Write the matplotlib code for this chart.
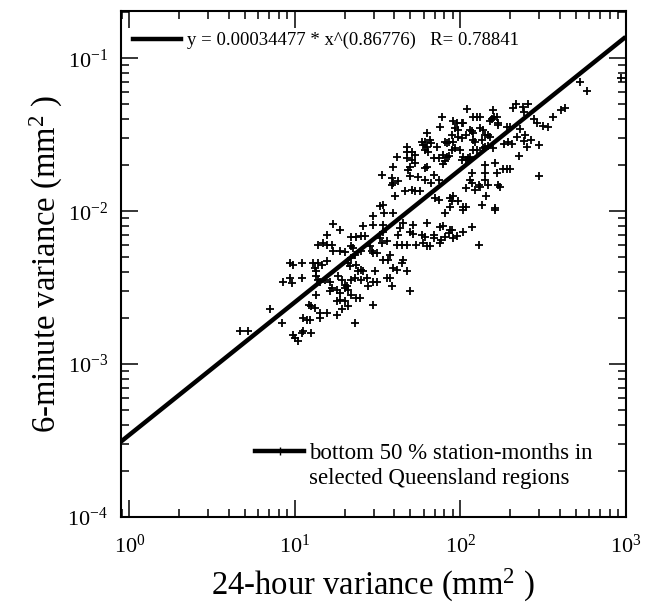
import numpy as np
import matplotlib
matplotlib.use('Agg')
import matplotlib.pyplot as plt
from matplotlib.lines import Line2D

plt.rcParams['font.family'] = ['Liberation Serif', 'DejaVu Serif']
plt.rcParams['mathtext.fontset'] = 'custom'
plt.rcParams['mathtext.rm'] = 'Liberation Serif'
plt.rcParams['mathtext.it'] = 'Liberation Serif:italic'
plt.rcParams['axes.unicode_minus'] = False

# power-law fit printed on the chart
fit_a = 0.00034477
fit_b = 0.86776
fit_r = 0.78841

# station-months, upper cluster (24-hour variance, 6-minute variance)
upper_x = [932, 529, 581, 430, 405, 365, 340, 318, 292, 279,
           258, 240, 244, 217, 209, 230, 219, 207, 246, 244,
           267, 300, 252, 228, 300, 200, 192, 184, 195, 170,
           158, 160, 155, 166, 170, 151, 126, 120, 132, 110,
           78, 75, 91, 95, 102, 104, 93, 97, 89, 85,
           91, 93, 89, 100, 97, 102, 109, 114, 117, 120,
           120, 123, 132, 138, 141, 148, 151, 135, 141, 138,
           148, 158, 126, 119, 112, 109, 115, 104, 102, 72,
           67, 66, 81, 83, 79, 83, 85, 74, 69, 81,
           79, 141, 162, 117, 115, 117, 141, 141, 148, 166,
           182, 191, 200, 170, 174, 129, 132, 109, 123, 144,
           69, 74, 67, 70, 74, 87, 91, 89, 97, 135,
           162, 104, 109, 87]
upper_y = [0.0742, 0.0706, 0.0616, 0.0472, 0.0461, 0.0417, 0.0355, 0.0362, 0.0377, 0.040,
           0.0504, 0.048, 0.0449, 0.0504, 0.0472, 0.0344, 0.0308, 0.0276, 0.0316, 0.0290,
           0.0293, 0.0272, 0.0262, 0.0231, 0.0169, 0.0358, 0.0355, 0.0276, 0.0282, 0.0367,
           0.046, 0.0412, 0.040, 0.0417, 0.0377, 0.0392, 0.0417, 0.0417, 0.0417, 0.0466,
           0.0417, 0.0355, 0.0392, 0.0377, 0.038, 0.0377, 0.0349, 0.0341, 0.0316, 0.0286,
           0.0286, 0.0259, 0.0252, 0.0252, 0.0308, 0.0301, 0.0316, 0.0341, 0.0333, 0.0325,
           0.0293, 0.0286, 0.0349, 0.0341, 0.0316, 0.0316, 0.0308, 0.0293, 0.0265, 0.0259,
           0.0268, 0.0259, 0.0252, 0.0252, 0.0222, 0.0217, 0.0226, 0.0226, 0.0217, 0.0265,
           0.0279, 0.0293, 0.0286, 0.0279, 0.0234, 0.0228, 0.0230, 0.0222, 0.0222, 0.0212,
           0.0204, 0.0201, 0.0207, 0.0177, 0.0161, 0.0153, 0.0177, 0.0161, 0.0149, 0.0177,
           0.0189, 0.0189, 0.0189, 0.0149, 0.0144, 0.0149, 0.0145, 0.0142, 0.0138, 0.0126,
           0.0173, 0.0161, 0.0153, 0.0122, 0.0119, 0.0122, 0.0125, 0.0116, 0.0116, 0.0110,
           0.0105, 0.0107, 0.0107, 0.0107]

# middle band around x = 30..65
mid_x = [62.6, 61.2, 59.7, 62.6, 64.1, 58.4, 61.2, 47.4, 50.8, 53.2,
         47.4, 47.4, 50.8, 53.2, 49.6, 48.5, 62.6, 61.2, 41.2, 39.4,
         33.5, 38.5, 39.4, 38.5, 42.2, 49.6, 55.7, 61.2, 46.3, 50.8,
         53.2, 57.0, 40.3, 34.3, 32.7]
mid_y = [0.0327, 0.0286, 0.0272, 0.0265, 0.0246, 0.0286, 0.0252, 0.0265, 0.0246, 0.0234,
         0.0246, 0.0222, 0.0217, 0.0207, 0.0196, 0.0187, 0.0196, 0.0192, 0.0228, 0.0196,
         0.0173, 0.0165, 0.0153, 0.0149, 0.0157, 0.0169, 0.0168, 0.0161, 0.0135, 0.0138,
         0.0135, 0.0135, 0.0126, 0.0110, 0.0108]

# points below the line near x = 70..160
right_x = [81, 104, 162, 75, 79, 87, 89, 85, 69, 69,
           81, 77, 75, 91, 95, 104, 117, 129, 66]
right_y = [0.00973, 0.0102, 0.0102, 0.00787, 0.00803, 0.00757, 0.0075, 0.0072, 0.00702, 0.00668,
           0.00678, 0.00651, 0.0062, 0.00668, 0.00686, 0.00727, 0.00787, 0.00604, 0.00589]

# lower cluster
lower_x = [29.8, 34.6, 39.4, 17.1, 15.6, 18.7, 22.0, 23.6, 25.3, 26.5,
           25.9, 29.8, 34.3, 45.3, 51.5, 62.6, 43.2, 42.2, 49.6, 52.0,
           58.4, 61.2, 34.3, 32.7, 35.9, 33.5, 13.9, 14.9, 15.6, 16.7,
           17.1, 18.7, 20.1, 22.0, 22.5, 23.1, 22.0, 25.3, 28.4, 29.1,
           29.8, 31.2, 37.6, 36.7, 34.3, 41.2, 44.2, 47.4, 54.4, 59.7,
           62.6, 45.3, 44.2, 39.4, 41.2, 47.4, 9.33, 9.79, 11.0, 12.9,
           13.9, 14.5, 15.6, 13.2, 13.5, 13.5, 13.9, 14.2, 15.2, 16.3,
           8.51, 9.33, 9.55, 11.0, 18.3, 19.2, 21.0, 21.5, 23.6, 24.2,
           25.3, 25.9, 23.1, 22.0, 25.3, 27.2, 30.5, 31.2, 27.8, 29.8,
           35.9, 37.6, 38.5, 49.6, 20.1, 20.6, 21.0, 20.1, 16.7, 17.9,
           18.7, 16.3, 22.0, 23.6, 24.8, 18.7, 17.9, 20.1, 21.0, 19.2,
           13.5, 12.1, 12.6, 13.2, 14.2, 15.6, 17.9, 11.2, 11.8, 12.3,
           14.2, 29.8, 23.1, 8.31, 7.06, 11.2, 11.0, 9.79, 10.0, 10.5,
           12.6, 4.66, 5.22]
lower_y = [0.00925, 0.00973, 0.00973, 0.00828, 0.00702, 0.0075, 0.00684, 0.00678, 0.00692, 0.00692,
           0.00803, 0.00816, 0.00816, 0.00838, 0.00816, 0.00838, 0.00776, 0.00702, 0.00727, 0.0071,
           0.00702, 0.00684, 0.00727, 0.00668, 0.00635, 0.0062, 0.00604, 0.0062, 0.00604, 0.00604,
           0.00546, 0.00546, 0.0054, 0.00589, 0.00574, 0.0052, 0.00494, 0.00546, 0.00589, 0.00546,
           0.00533, 0.00533, 0.0052, 0.00482, 0.00482, 0.00604, 0.00604, 0.00604, 0.00604, 0.0062,
           0.00589, 0.00482, 0.00458, 0.00425, 0.00415, 0.00404, 0.00458, 0.00447, 0.00458, 0.00458,
           0.00458, 0.00447, 0.0047, 0.00426, 0.00404, 0.00375, 0.00356, 0.00347, 0.00353, 0.00347,
           0.00347, 0.00366, 0.00339, 0.00366, 0.00375, 0.00356, 0.00458, 0.00436, 0.00447, 0.00404,
           0.00415, 0.00404, 0.00366, 0.00356, 0.00356, 0.00366, 0.00404, 0.00347, 0.00323, 0.00347,
           0.00366, 0.00366, 0.00323, 0.00299, 0.00331, 0.00323, 0.00307, 0.00315, 0.00315, 0.00307,
           0.00292, 0.003, 0.00284, 0.0027, 0.0027, 0.00264, 0.00258, 0.00258, 0.00239, 0.0023,
           0.00284, 0.00245, 0.00239, 0.00233, 0.00216, 0.00216, 0.0021, 0.002, 0.00195, 0.00195,
           0.002, 0.00245, 0.00186, 0.00186, 0.0023, 0.00164, 0.0016, 0.00156, 0.00148, 0.00141,
           0.0016, 0.00164, 0.00164]

x_var = np.array(upper_x + mid_x + right_x + lower_x)
y_var = np.array(upper_y + mid_y + right_y + lower_y)

xmin, xmax = 0.885, 1000
ymin, ymax = 1e-4, 0.205

fig = plt.figure(figsize=(6.45, 6.03), dpi=100)
ax = fig.add_axes([0.187, 0.1426, 0.783, 0.8395])

xx = np.logspace(np.log10(xmin), np.log10(xmax), 300)
ax.plot(xx, fit_a * xx ** fit_b, color='k', lw=3.2, solid_capstyle='butt')
ax.plot(x_var, y_var, ls='none', marker='+', ms=6, mew=1.3, color='k')

ax.set_xscale('log')
ax.set_yscale('log')
ax.set_xlim(xmin, xmax)
ax.set_ylim(ymin, ymax)

ax.tick_params(which='both', direction='in', top=True, right=True, labelsize=16)
ax.tick_params(axis='x', pad=13)
ax.tick_params(axis='y', pad=9)
ax.tick_params(which='major', length=12, width=1.1)
ax.tick_params(which='minor', length=6, width=1.1)
for s in ax.spines.values():
    s.set_linewidth(1.5)

ax.set_xlabel('24-hour variance (mm$^2$ )', fontsize=23.5, labelpad=6)
ax.set_ylabel('6-minute variance (mm$^2$ )', fontsize=23.5, labelpad=2)

leg1 = ax.legend([Line2D([], [], color='k', lw=3.2)],
                 [f'y = {fit_a} * x^({fit_b})   R= {fit_r}'],
                 loc='upper left', bbox_to_anchor=(0.024, 0.958), frameon=False,
                 fontsize=13.5, handlelength=2.6, handletextpad=0.3,
                 borderpad=0, borderaxespad=0)
ax.add_artist(leg1)

ax.legend([Line2D([], [], color='k', lw=3.2, marker='+', ms=6, mew=1.0),
           Line2D([], [], alpha=0)],
          ['bottom 50 % station-months in', 'selected Queensland regions'],
          loc='lower left', bbox_to_anchor=(0.266, 0.055), frameon=False,
          fontsize=16.5, handlelength=2.15, handletextpad=0.2, labelspacing=0.2,
          borderpad=0, borderaxespad=0)

fig.savefig('out.png', dpi=100)
